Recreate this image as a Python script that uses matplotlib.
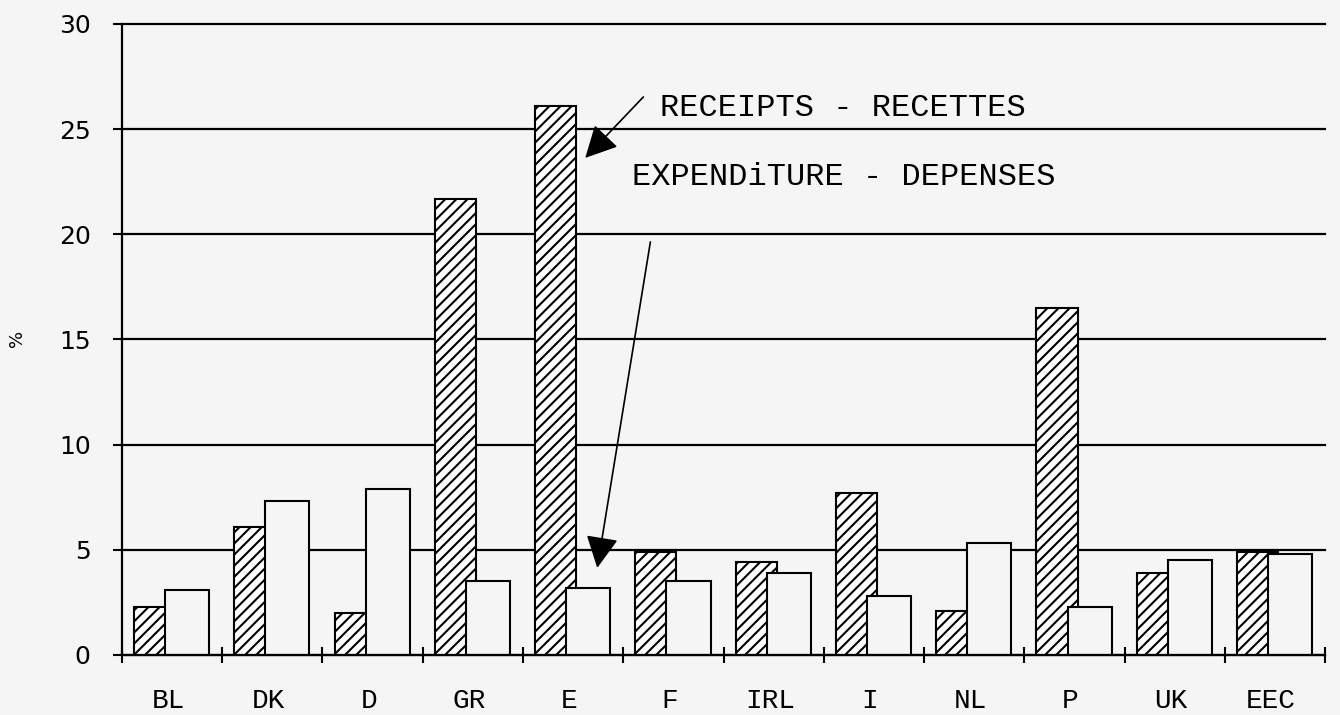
import matplotlib.pyplot as plt
import numpy as np

# EC own resources: share of receipts vs expenditure by member state (%)
countries = ['BL', 'DK', 'D', 'GR', 'E', 'F', 'IRL', 'I', 'NL', 'P', 'UK', 'EEC']
receipts = [2.3, 6.1, 2.0, 21.7, 26.1, 4.9, 4.4, 7.7, 2.1, 16.5, 3.9, 4.9]
expenditure = [3.1, 7.3, 7.9, 3.5, 3.2, 3.5, 3.9, 2.8, 5.3, 2.3, 4.5, 4.8]
yticks = [0, 5, 10, 15, 20, 25, 30]

bg = '#f5f5f5'
mono = 'Liberation Mono'
plt.rcParams['hatch.linewidth'] = 1.5

fig = plt.figure(figsize=(13.4, 7.15), dpi=100, facecolor=bg)
ax = fig.add_axes([0.091, 0.084, 0.898, 0.8825])
ax.set_facecolor(bg)

x = np.arange(len(countries))

for v in yticks:
    ax.axhline(v, color='black', lw=1.6, zorder=0.5, clip_on=False)

ax.bar(x + 0.12, receipts, width=0.41, align='edge', facecolor='white',
       edgecolor='black', lw=1.5, hatch='///', zorder=2)
ax.bar(x + 0.43, expenditure, width=0.44, align='edge', facecolor=bg,
       edgecolor='black', lw=1.5, zorder=3)

ax.set_xlim(0, 12)
ax.set_ylim(0, 30)

for s in ['top', 'right']:
    ax.spines[s].set_visible(False)
for s in ['left', 'bottom']:
    ax.spines[s].set_linewidth(1.6)
    ax.spines[s].set_zorder(4)

ax.set_yticks(yticks)
ax.set_yticklabels([str(v) for v in yticks], fontsize=18, family='DejaVu Sans')
ax.tick_params(axis='y', length=6.5, width=1.5, pad=16, color='black')

ax.set_xticks(np.arange(13))
ax.set_xticklabels([])
ax.tick_params(axis='x', which='major', direction='inout', length=12, width=1.5)
ax.set_xticks(x + 0.46, minor=True)
ax.set_xticklabels(countries, minor=True, fontsize=20, family=mono)
ax.tick_params(axis='x', which='minor', length=0, pad=24)

fig.text(0.013, 1 - 338 / 715, '%', rotation=90, fontsize=13,
         ha='center', va='center')

# annotations
ax.text(5.37, 26.0, 'RECEIPTS - RECETTES', fontsize=23, family=mono,
        ha='left', va='center', zorder=5)
ax.text(5.09, 22.73, 'EXPENDiTURE - DEPENSES', fontsize=23, family=mono,
        ha='left', va='center', zorder=5)

arrow = dict(arrowstyle='-|>,head_length=0.55,head_width=0.28',
             color='black', lw=1.2, mutation_scale=36, shrinkA=0, shrinkB=0)
ax.annotate('', xy=(4.62, 23.63), xytext=(5.20, 26.53),
            arrowprops=arrow, zorder=5)
ax.annotate('', xy=(4.74, 4.14), xytext=(5.27, 19.64),
            arrowprops=arrow, zorder=5)

fig.savefig('out.png', dpi=100, facecolor=bg)
